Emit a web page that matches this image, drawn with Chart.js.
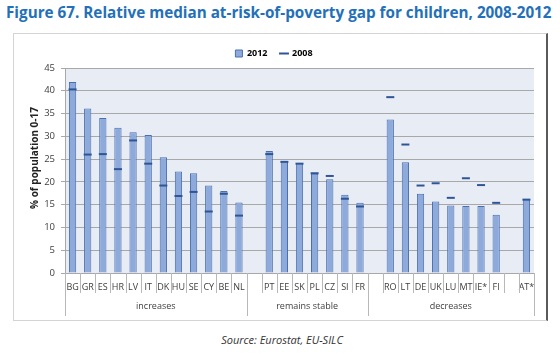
<!DOCTYPE html>
<html>
<head>
<meta charset="utf-8">
<script src="https://cdn.jsdelivr.net/npm/chart.js@4.4.1/dist/chart.umd.min.js"></script>
<style>
  html, body { margin: 0; padding: 0; background: #ffffff; }
  body { width: 560px; height: 357px; position: relative; overflow: hidden; font-family: "Open Sans", "Noto Sans", sans-serif; }
  #title { position: absolute; left: 6px; top: 2px; font-weight: bold; color: #2470b8; white-space: nowrap; font-size: 15.5px; font-family: "Open Sans", "Noto Sans", sans-serif; }
  #frame { position: absolute; left: 13px; top: 33px; width: 535px; height: 288px; box-sizing: border-box; border: 1px solid #d4d4d4; border-right: 2px solid #5a5a5a; }
  #chart { position: absolute; left: 0; top: 0; }
  #source { position: absolute; left: 0; width: 564px; top: 332px; text-align: center; font-style: italic; font-size: 11px; color: #333333; font-family: "Open Sans", "Noto Sans", sans-serif; }
</style>
</head>
<body>
<div id="title">Figure 67. Relative median at-risk-of-poverty gap for children, 2008-2012</div>
<div id="frame"><canvas id="chart" width="533" height="286"></canvas></div>
<div id="source">Source: Eurostat, EU-SILC</div>
<script>
// ---- data ----
const categories = ["BG","GR","ES","HR","LV","IT","DK","HU","SE","CY","BE","NL","",
  "PT","EE","SK","PL","CZ","SI","FR","",
  "RO","LT","DE","UK","LU","MT","IE*","FI","","AT*"];
const values2012 = [41.9,36.1,34.0,31.9,30.9,30.3,25.4,22.3,21.9,19.2,18.0,15.5,null,
  26.8,24.5,24.1,21.8,20.6,17.2,15.4,null,
  33.7,24.3,17.4,15.7,14.8,14.7,14.7,12.8,null,16.3];
const values2008 = [40.3,26.0,26.1,22.8,29.1,24.0,19.2,16.9,17.8,13.5,17.4,12.6,null,
  26.1,24.4,24.0,21.9,21.3,16.3,14.6,null,
  38.6,28.2,19.2,19.7,16.5,20.8,19.3,15.4,null,16.1];
const groupNames = ["increases","remains stable","decreases"];
const groupStart = [0, 12, 20];   // first category index of each group
const groupEnd = [11, 19, 30];    // last category index of each group
const yTicksMax = 45, yTicksStep = 5;
const yTitle = "% of population 0-17";

// fit title to reference width
(function(){
  const t = document.getElementById('title');
  const target = 546;
  const w = t.getBoundingClientRect().width;
  const fs = parseFloat(getComputedStyle(t).fontSize);
  t.style.fontSize = (fs * target / w).toFixed(2) + 'px';
})();

const FONT = "'Open Sans', 'Noto Sans', sans-serif";

const decor = {
  id: 'decor',
  beforeDraw(chart) {
    const {ctx, chartArea: a} = chart;
    ctx.save();
    ctx.fillStyle = '#e8edf5';
    ctx.fillRect(a.left, a.top, a.right - a.left, a.bottom - a.top);
    ctx.restore();
  },
  afterDraw(chart) {
    const {ctx, chartArea: a} = chart;
    const xs = chart.scales.x;
    const n = categories.length;
    const half = (xs.getPixelForValue(1) - xs.getPixelForValue(0)) / 2;
    ctx.save();
    ctx.strokeStyle = '#b8b8b8';
    ctx.lineWidth = 1;
    // category dividers
    for (let i = 0; i <= n; i++) {
      const x = Math.round(xs.getPixelForValue(i) - half) + 0.5;
      ctx.beginPath();
      ctx.moveTo(x, a.bottom);
      ctx.lineTo(x, a.bottom + 20);
      ctx.stroke();
    }
    // group dividers and labels
    ctx.font = "9px " + FONT;
    ctx.fillStyle = '#404040';
    ctx.textAlign = 'center';
    ctx.textBaseline = 'middle';
    for (let g = 0; g < groupNames.length; g++) {
      const x0 = xs.getPixelForValue(groupStart[g]) - half;
      const x1 = xs.getPixelForValue(groupEnd[g]) + half;
      [x0, x1].forEach(x => {
        const xx = Math.round(x) + 0.5;
        ctx.beginPath();
        ctx.moveTo(xx, a.bottom);
        ctx.lineTo(xx, a.bottom + 43);
        ctx.stroke();
      });
      ctx.fillText(groupNames[g], (x0 + x1) / 2, a.bottom + 33);
    }
    // y axis title
    ctx.font = "bold 10px " + FONT;
    ctx.fillStyle = '#222222';
    ctx.translate(21, 124);
    ctx.rotate(-Math.PI / 2);
    ctx.fillText(yTitle, 0, 0);
    ctx.restore();
  }
};

new Chart(document.getElementById('chart'), {
  type: 'bar',
  data: {
    labels: categories,
    datasets: [
      {
        type: 'bar',
        label: '2012',
        data: values2012,
        backgroundColor: '#8eaadb',
        borderColor: '#4a6fb0',
        borderWidth: {top: 1, left: 1, right: 1, bottom: 0},
        barPercentage: 0.48,
        categoryPercentage: 1.0,
        order: 2
      },
      {
        type: 'line',
        label: '2008',
        data: values2008,
        showLine: false,
        pointStyle: 'line',
        pointRadius: 4,
        pointHoverRadius: 4,
        pointBorderWidth: 2,
        borderColor: '#2f5597',
        backgroundColor: '#2f5597',
        order: 1
      }
    ]
  },
  options: {
    responsive: false,
    animation: false,
    events: [],
    layout: { padding: { top: 2, right: 13, left: 0, bottom: 0 } },
    plugins: {
      legend: {
        display: true,
        position: 'top',
        labels: {
          usePointStyle: true,
          boxWidth: 7,
          boxHeight: 7,
          padding: 13,
          color: '#222222',
          font: { family: FONT, size: 9, weight: 'bold' },
          generateLabels(chart) {
            return chart.data.datasets.map((ds, i) => ({
              text: ds.label,
              fillStyle: i === 0 ? '#8eaadb' : '#2f5597',
              strokeStyle: i === 0 ? '#4a6fb0' : '#2f5597',
              lineWidth: i === 0 ? 1 : 2,
              pointStyle: i === 0 ? 'rect' : 'line',
              datasetIndex: i,
              hidden: false
            }));
          }
        }
      },
      tooltip: { enabled: false },
      title: { display: false }
    },
    scales: {
      x: {
        afterFit(scale) { scale.height = 47; },
        grid: { display: false },
        border: { display: false },
        ticks: {
          autoSkip: false,
          maxRotation: 0,
          minRotation: 0,
          padding: 1,
          color: '#404040',
          font: { family: FONT, size: 9 }
        }
      },
      y: {
        min: 0,
        max: yTicksMax,
        afterFit(scale) { scale.width = 51; },
        ticks: {
          stepSize: yTicksStep,
          padding: 6,
          color: '#404040',
          font: { family: FONT, size: 9.5 }
        },
        grid: { color: '#a8a8a8', tickLength: 4, tickColor: '#a8a8a8' },
        border: { display: true, color: '#a8a8a8' }
      }
    }
  },
  plugins: [decor]
});
</script>
</body>
</html>
